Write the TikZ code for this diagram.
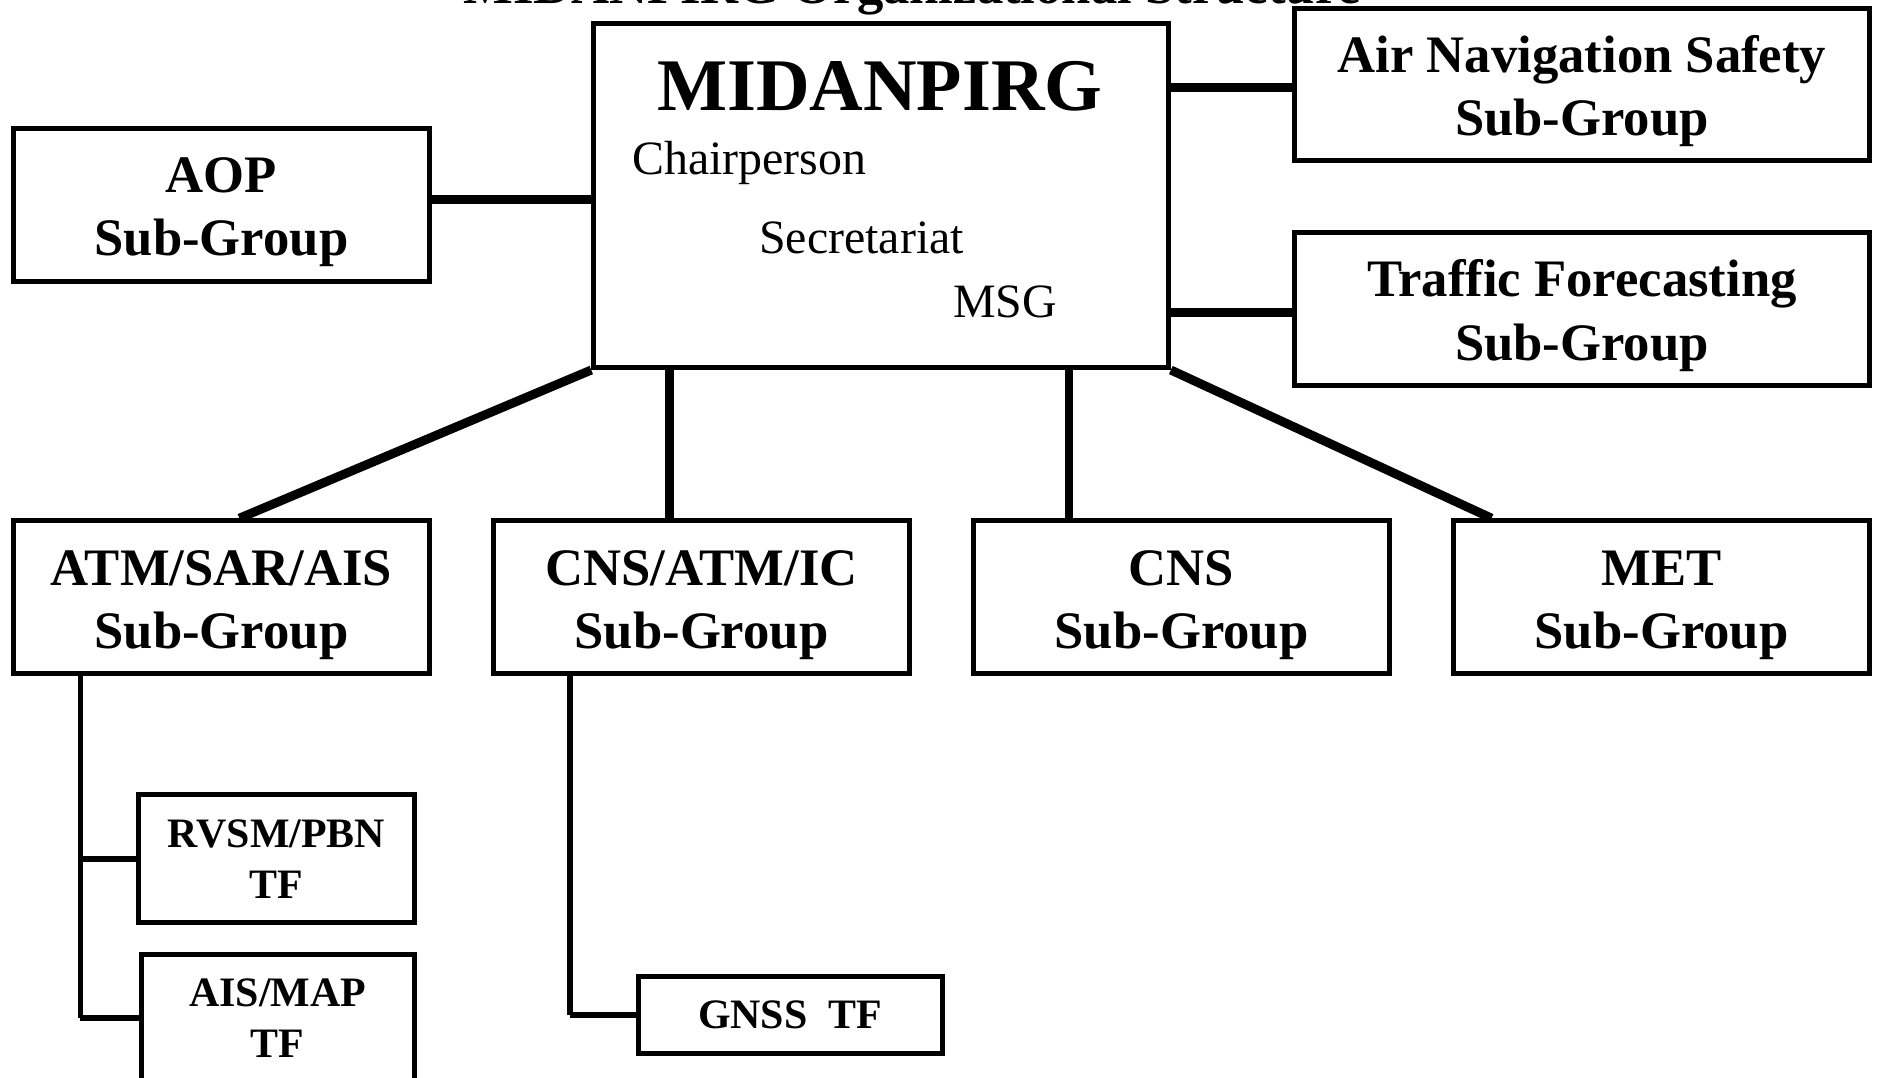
\documentclass[tikz,border=0pt]{standalone}
\usepackage{fontspec}
\setmainfont{Liberation Serif}
\tikzset{
  grpbox/.style={draw, line width=4.2pt, inner sep=0pt, align=center,
    font=\fontsize{44}{53}\selectfont\bfseries,
    execute at begin node={\rule{0pt}{95pt}}},
  tfbox/.style={draw, line width=4.2pt, inner sep=0pt, align=center,
    font=\fontsize{35}{43}\selectfont\bfseries},
  link/.style={line width=7.5pt},
  droplink/.style={line width=4.5pt},
  tflink/.style={line width=5.5pt},
}
\begin{document}
\begin{tikzpicture}[x=1pt,y=-1pt]
\useasboundingbox (0,0) rectangle (1568,900);

\node[anchor=base, font=\fontsize{44}{53}\selectfont\bfseries] (title) at (762,3) {MIDANPIRG Organizational Structure};

\node[draw, line width=4.2pt, minimum width=480pt, minimum height=287pt] (mid) at (736,163.5) {};
\node[anchor=base, font=\fontsize{62}{70}\selectfont\bfseries] (midname) at (735,92) {MIDANPIRG};
\node[anchor=base west, inner sep=0pt, font=\fontsize{40}{46}\selectfont] (chair) at (528,146) {Chairperson};
\node[anchor=base west, inner sep=0pt, font=\fontsize{40}{46}\selectfont] (secr) at (634,212) {Secretariat};
\node[anchor=base west, inner sep=0pt, font=\fontsize{40}{46}\selectfont] (msg) at (796,265) {MSG};

\node[grpbox, minimum width=348pt, minimum height=128pt] (aop) at (185,171) {AOP\\Sub-Group};
\node[grpbox, minimum width=481pt, minimum height=127pt] (ans) at (1321.5,70.5) {Air Navigation Safety\\Sub-Group};
\node[grpbox, minimum width=481pt, minimum height=128pt] (tfc) at (1321.5,258) {Traffic Forecasting\\Sub-Group};

\node[grpbox, minimum width=348pt, minimum height=128pt] (atm) at (185,499) {ATM/SAR/AIS\\Sub-Group};
\node[grpbox, minimum width=348pt, minimum height=128pt] (cnsatm) at (586,499) {CNS/ATM/IC\\Sub-Group};
\node[grpbox, minimum width=348pt, minimum height=128pt] (cns) at (987,499) {CNS\\Sub-Group};
\node[grpbox, minimum width=348pt, minimum height=128pt] (met) at (1388,499) {MET\\Sub-Group};

\node[tfbox, minimum width=230pt, minimum height=107pt] (rvsm) at (231,717.5) {RVSM/PBN\\TF};
\node[tfbox, minimum width=228pt, minimum height=107pt] (aismap) at (232,850.5) {AIS/MAP\\TF};
\node[tfbox, minimum width=254pt, minimum height=64pt] (gnss) at (660,848) {GNSS\ \ TF};

\draw[link] ([yshift=4pt]aop.east) -- ([yshift=4pt]aop.east -| mid.west);
\draw[link] ([yshift=-2.5pt]ans.west) -- ([yshift=-2.5pt]ans.west -| mid.east);
\draw[link] ([yshift=-3pt]tfc.west) -- ([yshift=-3pt]tfc.west -| mid.east);
\draw[link] (mid.south west) -- ([xshift=15pt]atm.north);
\draw[link] ([xshift=-27pt]cnsatm.north) -- ([xshift=-27pt]cnsatm.north |- mid.south);
\draw[link] ([xshift=-94pt]cns.north) -- ([xshift=-94pt]cns.north |- mid.south);
\draw[link] (mid.south east) -- ([xshift=-142pt]met.north);

\coordinate (atmdrop) at ([xshift=-118pt]atm.south);
\coordinate (cnsdrop) at ([xshift=-110pt]cnsatm.south);
\draw[droplink] (atmdrop) -- (atmdrop |- aismap.west);
\draw[tflink] (atmdrop |- rvsm.west) -- (rvsm.west);
\draw[tflink] (atmdrop |- aismap.west) -- (aismap.west);
\draw[droplink] (cnsdrop) -- (cnsdrop |- gnss.west);
\draw[tflink] (cnsdrop |- gnss.west) -- (gnss.west);
\end{tikzpicture}
\end{document}
